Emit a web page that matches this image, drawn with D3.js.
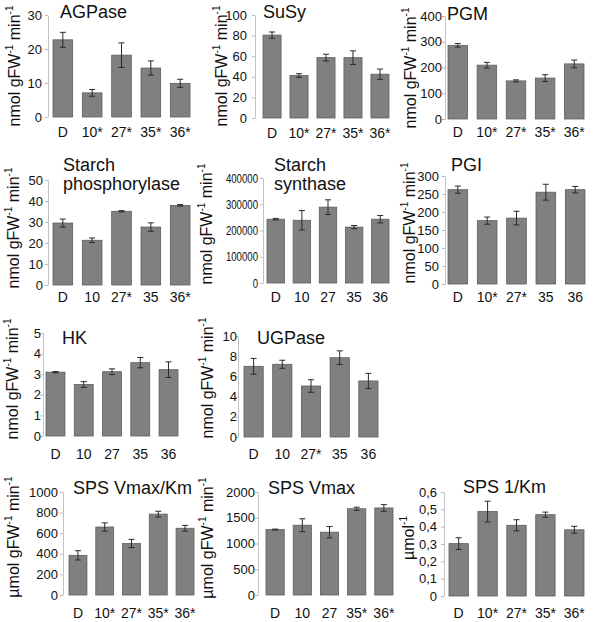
<!DOCTYPE html>
<html><head><meta charset="utf-8">
<script src="https://cdn.jsdelivr.net/npm/d3@7"></script>
<style>body{margin:0;background:#fff}svg{display:block}text{font-family:"Liberation Sans",Arial,sans-serif}</style>
</head><body><svg id="c" width="600" height="622"></svg>
<script>
// ---- data ----
const agpaseLabels = ["D","10*","27*","35*","36*"];
const agpaseMeans  = [22.7, 7.1, 18.2, 14.4, 9.9];
const agpaseErr    = [2.2, 1.0, 3.6, 2.1, 1.2];
const agpaseTicks  = [0,10,20,30];

const susyLabels = ["D","10*","27*","35*","36*"];
const susyMeans  = [80.5, 41.2, 58.6, 58.6, 42.5];
const susyErr    = [3, 1.8, 3.3, 6.6, 5];
const susyTicks  = [0,20,40,60,80,100];

const pgmLabels = ["D","10*","27*","35*","36*"];
const pgmMeans  = [286, 209, 148, 159, 214];
const pgmErr    = [7, 11, 4, 13, 15];
const pgmTicks  = [0,100,200,300,400];

const sphLabels = ["D","10","27*","35","36*"];
const sphMeans  = [29.5, 21.3, 35.1, 27.6, 37.9];
const sphErr    = [1.9, 1.1, 0.3, 2.0, 0.4];
const sphTicks  = [0,10,20,30,40,50];

const ssLabels = ["D","10","27","35","36"];
const ssMeans  = [243000, 239000, 289000, 213000, 243000];
const ssErr    = [3000, 37000, 28000, 6000, 14000];
const ssTicks  = [0,100000,200000,300000,400000];

const pgiLabels = ["D","10*","27*","35","36"];
const pgiMeans  = [262, 176, 183, 255, 262];
const pgiErr    = [10, 10, 19, 22, 9];
const pgiTicks  = [0,50,100,150,200,250,300];

const hkLabels = ["D","10","27","35","36"];
const hkMeans  = [3.1, 2.5, 3.12, 3.56, 3.22];
const hkErr    = [0.03, 0.14, 0.14, 0.25, 0.38];
const hkTicks  = [0,1,2,3,4,5];

const ugpLabels = ["D","10","27*","35","36"];
const ugpMeans  = [7.0, 7.2, 5.05, 7.85, 5.55];
const ugpErr    = [0.78, 0.4, 0.62, 0.68, 0.75];
const ugpTicks  = [0,2,4,6,8,10];

const spsVKLabels = ["D","10*","27*","35*","36*"];
const spsVKMeans  = [385, 660, 500, 785, 648];
const spsVKErr    = [45, 40, 40, 28, 28];
const spsVKTicks  = [0,200,400,600,800,1000];

const spsVLabels = ["D","10","27","35*","36*"];
const spsVMeans  = [1270, 1355, 1220, 1675, 1690];
const spsVErr    = [10, 125, 110, 30, 65];
const spsVTicks  = [0,500,1000,1500,2000];

const spsKLabels = ["D","10*","27*","35*","36*"];
const spsKMeans  = [0.302, 0.487, 0.408, 0.469, 0.382];
const spsKErr    = [0.034, 0.06, 0.032, 0.015, 0.02];
const spsKTicks  = [0,0.1,0.2,0.3,0.4,0.5,0.6];

// ---- layout ----
const panels = [
 {title:["AGPase"], labels:agpaseLabels, means:agpaseMeans, err:agpaseErr, ticks:agpaseTicks,
  ax:48, yTop:15, y0:117, bl:53, br:190, lb:137, tx:60, ty:18, yl:"nmol", ylx:14, yly:66, gap:6},
 {title:["SuSy"], labels:susyLabels, means:susyMeans, err:susyErr, ticks:susyTicks,
  ax:255, yTop:15, y0:118, bl:263, br:389, lb:138, tx:263, ty:18, yl:"nmol", ylx:221, yly:66, gap:8},
 {title:["PGM"], labels:pgmLabels, means:pgmMeans, err:pgmErr, ticks:pgmTicks,
  ax:445, yTop:16, y0:119, bl:448, br:584, lb:137, tx:447, ty:20, yl:"nmol", ylx:410, yly:68, gap:3},
 {title:["Starch","phosphorylase"], labels:sphLabels, means:sphMeans, err:sphErr, ticks:sphTicks,
  ax:48, yTop:180, y0:285, bl:53, br:190, lb:302, tx:63, ty:171, yl:"nmol", ylx:13, yly:228, gap:5},
 {title:["Starch","synthase"], labels:ssLabels, means:ssMeans, err:ssErr, ticks:ssTicks,
  ax:263, yTop:178, y0:283, bl:267, br:389, lb:302, tx:274, ty:171, yl:"nmol", ylx:206, yly:224, gap:5, squeeze:0.74},
 {title:["PGI"], labels:pgiLabels, means:pgiMeans, err:pgiErr, ticks:pgiTicks,
  ax:445, yTop:176, y0:284, bl:448, br:585, lb:302, tx:451, ty:171, yl:"nmol", ylx:409, yly:223, gap:6},
 {title:["HK"], labels:hkLabels, means:hkMeans, err:hkErr, ticks:hkTicks,
  ax:43, yTop:333, y0:436, bl:46, br:178, lb:459, tx:62, ty:344, yl:"nmol", ylx:12, yly:379, gap:2},
 {title:["UGPase"], labels:ugpLabels, means:ugpMeans, err:ugpErr, ticks:ugpTicks,
  ax:238, yTop:336, y0:437, bl:244, br:378, lb:459, tx:257, ty:344, yl:"nmol", ylx:207, yly:378, gap:1},
 {title:["SPS Vmax/Km"], labels:spsVKLabels, means:spsVKMeans, err:spsVKErr, ticks:spsVKTicks,
  ax:63, yTop:492, y0:595, bl:69, br:194, lb:618, tx:73, ty:494, yl:"umol", ylx:13, yly:537, gap:5},
 {title:["SPS Vmax"], labels:spsVLabels, means:spsVMeans, err:spsVErr, ticks:spsVTicks,
  ax:258, yTop:492, y0:595, bl:266, br:393, lb:618, tx:268, ty:494, yl:"umol", ylx:207, yly:538, gap:3},
 {title:["SPS 1/Km"], labels:spsKLabels, means:spsKMeans, err:spsKErr, ticks:spsKTicks,
  ax:444, yTop:492, y0:596, bl:449, br:584, lb:618, tx:463, ty:493, yl:"kinv", ylx:408, yly:538, gap:7, comma:true}
];

const svg = d3.select("#c");
svg.append("rect").attr("width",600).attr("height",622).attr("fill","#fff");

panels.forEach(p => {
  const g = svg.append("g");
  const maxV = p.ticks[p.ticks.length-1];
  const y = d3.scaleLinear().domain([0, maxV]).range([p.y0, p.yTop]);
  const x = d3.scaleBand().domain(p.labels).range([p.bl, p.br]).paddingInner(0.33).paddingOuter(0);

  const fmt = p.comma ? (d => d === 0 ? "0" : d3.format(".1f")(d).replace(".", ",")) : d3.format("d");
  const axis = g.append("g").attr("transform", `translate(${p.ax},0)`)
    .call(d3.axisLeft(y).tickValues(p.ticks).tickFormat(fmt).tickSizeInner(3).tickSizeOuter(0).tickPadding(p.gap - 3));
  axis.attr("font-family", null).attr("font-size", null);
  axis.select(".domain").attr("stroke", "#c4c4c4");
  axis.selectAll(".tick line").attr("stroke", "#b8b8b8");
  axis.selectAll(".tick text").attr("font-size", 13).attr("fill", "#111");
  if (p.squeeze) axis.selectAll(".tick text")
      .attr("x", -p.gap / p.squeeze).attr("transform", `scale(${p.squeeze},1)`);

  const data = p.labels.map((l,i) => ({l, m:p.means[i], e:p.err[i]}));
  g.selectAll("rect.bar").data(data).join("rect").attr("class","bar")
    .attr("x", d => x(d.l)).attr("width", x.bandwidth())
    .attr("y", d => y(d.m)).attr("height", d => y(0) - y(d.m))
    .attr("fill", "#808080").attr("stroke", "#5e5e5e").attr("stroke-width", 0.8);

  const eb = g.selectAll("g.eb").data(data).join("g").attr("class","eb")
    .attr("stroke", "#2a2a2a").attr("stroke-width", 1);
  const cx = d => x(d.l)+x.bandwidth()/2;
  eb.append("line").attr("x1", cx).attr("x2", cx)
    .attr("y1", d => y(d.m+d.e)).attr("y2", d => y(d.m-d.e));
  eb.append("line").attr("x1", d => cx(d)-3).attr("x2", d => cx(d)+3)
    .attr("y1", d => y(d.m+d.e)).attr("y2", d => y(d.m+d.e));
  eb.append("line").attr("x1", d => cx(d)-3).attr("x2", d => cx(d)+3)
    .attr("y1", d => y(d.m-d.e)).attr("y2", d => y(d.m-d.e));

  g.selectAll("text.xl").data(data).join("text").attr("class","xl")
    .attr("x", cx).attr("y", p.lb)
    .attr("text-anchor","middle").attr("font-size",14).attr("fill","#111").text(d => d.l);

  p.title.forEach((t,i) => {
    g.append("text").attr("x", p.tx).attr("y", p.ty + i*19).attr("font-size", 18)
      .attr("fill","#111").text(t);
  });

  const yl = g.append("text").attr("transform", `translate(${p.ylx},${p.yly}) rotate(-90)`)
    .attr("text-anchor","middle").attr("dominant-baseline","central")
    .attr("font-size", 16).attr("fill","#111");
  if (p.yl === "kinv") {
    yl.append("tspan").text("\u00b5mol");
    yl.append("tspan").attr("font-size",10).attr("dy",-5).text("-1");
  } else {
    yl.append("tspan").text((p.yl === "umol" ? "\u00b5mol" : "nmol") + " gFW");
    yl.append("tspan").attr("font-size",10).attr("dy",-5).text("-1");
    yl.append("tspan").attr("dy",5).text(" min");
    yl.append("tspan").attr("font-size",10).attr("dy",-5).text("-1");
  }
});
</script></body></html>
